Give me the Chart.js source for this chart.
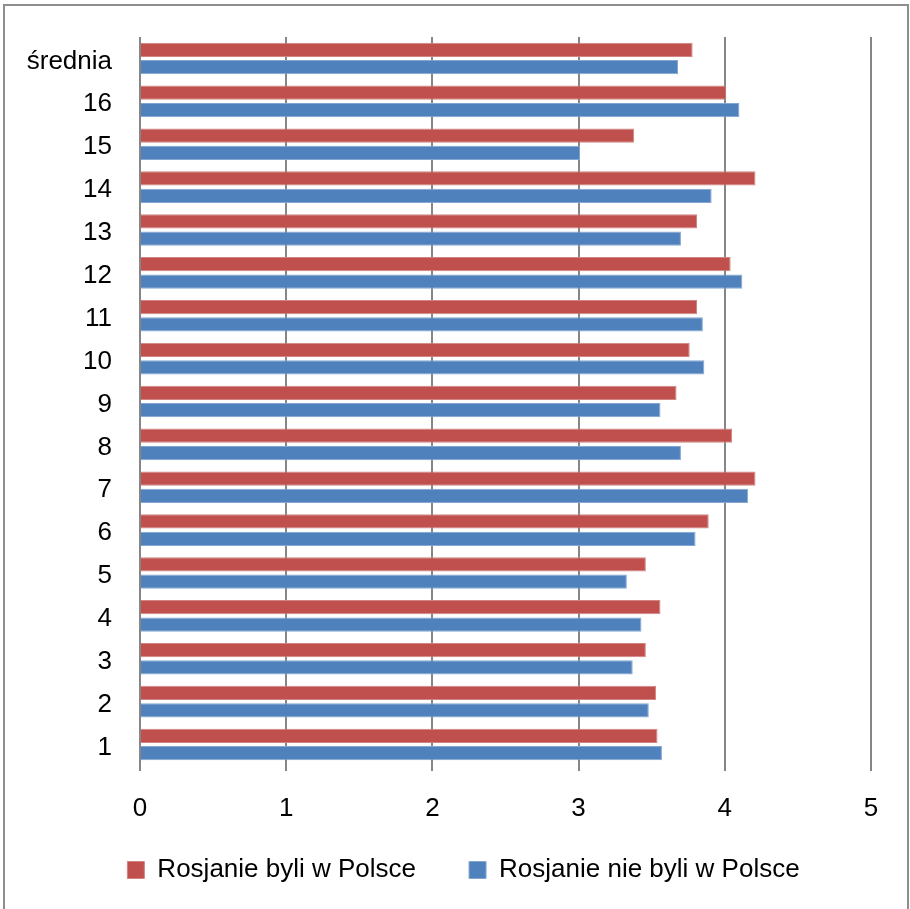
<!DOCTYPE html>
<html>
<head>
<meta charset="utf-8">
<script src="https://cdn.jsdelivr.net/npm/chart.js@4"></script>
<style>
  html, body { margin: 0; padding: 0; background: #fff; overflow: hidden; }
  .wrap { position: relative; width: 910px; height: 909px; }
  .frame {
    position: absolute; left: 3px; top: 4px; width: 902px; height: 920px;
    border-left: 2px solid #8e8e8e; border-top: 2px solid #8e8e8e; border-right: 2px solid #8e8e8e;
    pointer-events: none;
  }
</style>
</head>
<body>
<div class="wrap">
  <canvas id="barChart" width="910" height="909"></canvas>
  <div class="frame"></div>
</div>
<script>
// categories top to bottom as shown
const categories = ["średnia", "16", "15", "14", "13", "12", "11", "10", "9", "8", "7", "6", "5", "4", "3", "2", "1"];
const byliWPolsce = [3.78, 4.01, 3.38, 4.21, 3.81, 4.04, 3.81, 3.76, 3.67, 4.05, 4.21, 3.89, 3.46, 3.56, 3.46, 3.53, 3.54];
const nieByliWPolsce = [3.68, 4.10, 3.01, 3.91, 3.70, 4.12, 3.85, 3.86, 3.56, 3.70, 4.16, 3.80, 3.33, 3.43, 3.37, 3.48, 3.57];
const xTicks = [0, 1, 2, 3, 4, 5];

const font = { family: "'Liberation Sans', Arial, sans-serif", size: 26 };

// legend sits a bit right of centre, and the x labels need room below their box
const tweakLayout = {
  id: "tweakLayout",
  afterLayout(chart) {
    chart.legend.left += 28;
    chart.legend.right += 28;
    chart.legend.top += 4;
    chart.legend.bottom += 4;
    chart.scales.x.bottom = chart.height;
  },
};

const ctx = document.getElementById("barChart").getContext("2d");
new Chart(ctx, {
  type: "bar",
  data: {
    labels: categories,
    datasets: [
      {
        label: "Rosjanie byli w Polsce",
        data: byliWPolsce,
        backgroundColor: "#C0504D",
        borderColor: "#d08582",
        borderWidth: 1,
      },
      {
        label: "Rosjanie nie byli w Polsce",
        data: nieByliWPolsce,
        backgroundColor: "#4F81BD",
        borderColor: "#84a6d2",
        borderWidth: 1,
      },
    ],
  },
  options: {
    indexAxis: "y",
    responsive: false,
    animation: false,
    categoryPercentage: 0.81,
    barPercentage: 0.82,
    layout: { padding: { top: 37, right: 39, bottom: 20, left: 0 } },
    scales: {
      x: {
        min: xTicks[0],
        max: xTicks[xTicks.length - 1],
        afterBuildTicks: (scale) => {
          scale.ticks = xTicks.map((v) => ({ value: v }));
        },
        afterFit: (scale) => {
          scale.height = 34;
        },
        grid: { color: "#868686", lineWidth: 2, drawTicks: true, tickLength: 5 },
        border: { display: false },
        ticks: { color: "#000", font: font, padding: 22, maxRotation: 0 },
      },
      y: {
        afterFit: (scale) => {
          scale.width = 140;
        },
        grid: { display: false, drawTicks: true, tickLength: 28 },
        border: { display: false },
        ticks: { color: "#000", font: font, padding: 0, labelOffset: 3, autoSkip: false },
      },
    },
    plugins: {
      legend: {
        position: "bottom",
        labels: { color: "#000", font: font, boxWidth: 17, boxHeight: 17, padding: 53 },
      },
      tooltip: { enabled: false },
    },
  },
  plugins: [tweakLayout],
});
</script>
</body>
</html>
